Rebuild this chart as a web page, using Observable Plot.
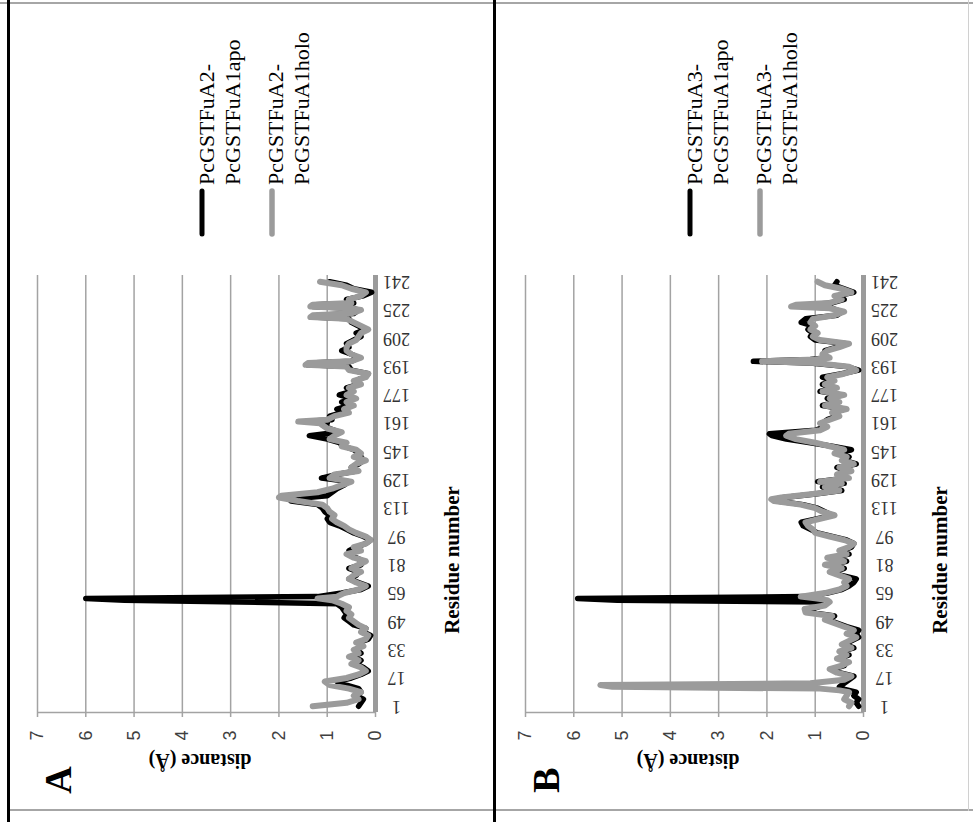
<!DOCTYPE html>
<html><head><meta charset="utf-8">
<script src="https://cdn.jsdelivr.net/npm/d3@7"></script>
<script src="https://cdn.jsdelivr.net/npm/@observablehq/plot@0.6"></script>
<style>
html,body{margin:0;padding:0;background:#fff;}
#wrap{position:relative;width:973px;height:822px;overflow:hidden;background:#fff;}
#wrap svg{position:absolute;top:0;}
.bar{position:absolute;}
</style></head><body><div id="wrap"></div>
<script>
// ---------- data ----------
const distTicks = [0, 1, 2, 3, 4, 5, 6, 7];
const resTicks = [1, 17, 33, 49, 65, 81, 97, 113, 129, 145, 161, 177, 193, 209, 225, 241];
const resDomain = [-2.5, 244.5];

const resA = [1,3,5,7,9,11,13,15,17,19,21,23,25,27,29,31,33,35,37,39,41,43,45,47,49,51,53,55,57,59,61,62,63,65,67,69,71,73,75,77,79,81,83,85,87,89,91,93,95,97,99,101,103,105,107,109,111,113,115,117,119,120,122,124,126,128,130,132,134,136,138,140,142,144,146,148,150,152,154,156,158,160,161,162,163,165,167,169,171,173,175,177,179,181,183,185,187,189,191,193,194,195,196,198,200,202,204,206,208,210,212,214,216,218,220,221,222,223,225,226,227,228,229,231,233,235,237,239,241];
const apoA = [0.35,0.30,0.25,0.40,0.30,0.35,0.60,0.80,0.50,0.30,0.15,0.25,0.40,0.30,0.50,0.30,0.40,0.30,0.35,0.15,0.10,0.25,0.20,0.45,0.55,0.65,0.60,0.65,0.70,0.80,5.20,6.00,1.20,0.70,0.30,0.15,0.35,0.55,0.40,0.35,0.55,0.30,0.25,0.40,0.55,0.55,0.40,0.20,0.10,0.25,0.45,0.60,0.75,0.95,1.00,0.95,1.05,1.10,1.20,1.75,1.40,1.00,0.90,0.80,0.65,0.55,1.12,0.80,0.40,0.50,0.35,0.25,0.30,0.35,0.45,0.65,0.75,1.00,1.37,0.75,0.95,1.10,1.00,1.45,0.90,0.95,0.70,0.80,0.55,0.70,0.50,0.75,0.50,0.60,0.35,0.40,0.25,0.15,0.50,0.55,1.40,1.35,0.50,0.35,0.50,0.70,0.55,0.60,0.45,0.30,0.40,0.20,0.35,0.50,0.55,1.30,1.20,0.45,0.35,0.50,1.30,1.25,0.45,0.60,0.25,0.08,0.45,0.60,0.95];
const holoA = [1.30,0.60,0.35,0.45,0.30,0.55,0.95,1.05,0.60,0.35,0.20,0.30,0.50,0.35,0.55,0.35,0.45,0.25,0.40,0.20,0.15,0.30,0.20,0.35,0.45,0.55,0.50,0.60,0.55,0.70,0.90,1.20,0.80,0.65,0.35,0.20,0.40,0.55,0.45,0.30,0.50,0.35,0.20,0.45,0.60,0.30,0.45,0.20,0.10,0.20,0.40,0.55,0.65,0.80,0.90,0.85,0.95,1.00,1.10,1.60,2.00,1.95,1.20,0.90,0.70,0.50,0.95,0.85,0.35,0.50,0.40,0.20,0.45,0.30,0.40,0.70,0.60,0.95,0.85,0.70,1.00,1.10,1.15,1.60,1.00,0.85,0.55,0.65,0.45,0.60,0.40,0.60,0.45,0.55,0.30,0.45,0.20,0.15,0.55,0.60,1.45,1.40,0.50,0.30,0.50,0.60,0.60,0.55,0.40,0.35,0.30,0.15,0.30,0.45,0.60,1.35,1.30,0.50,0.30,0.55,1.35,1.30,0.50,0.55,0.30,0.20,0.50,0.70,1.15];

const resB = [1,3,5,7,9,10,11,12,13,14,16,18,20,22,24,26,28,30,32,34,36,38,40,42,44,46,48,50,52,54,56,58,60,61,62,63,65,67,69,71,73,75,77,79,81,83,85,87,89,91,93,95,97,99,101,103,105,107,109,111,113,115,117,118,119,121,123,125,127,128,130,132,134,136,138,140,142,144,146,148,150,152,154,155,157,159,161,163,165,167,169,171,173,175,177,179,181,183,185,187,189,191,193,195,196,197,198,200,202,204,206,208,210,212,214,216,218,220,222,224,226,227,228,229,231,233,235,237,239,241];
const apoB = [0.10,0.15,0.10,0.20,0.15,0.30,0.45,0.50,0.45,0.40,0.30,0.20,0.50,0.65,0.40,0.35,0.50,0.30,0.45,0.20,0.40,0.25,0.10,0.15,0.10,0.35,0.55,0.75,0.60,1.10,1.05,0.85,0.90,5.10,5.92,1.20,0.75,0.45,0.30,0.20,0.15,0.45,0.60,0.40,0.70,0.35,0.65,0.30,0.45,0.25,0.20,0.35,0.65,0.95,1.10,1.25,1.29,0.95,0.65,0.80,0.95,1.25,1.80,1.85,1.65,1.00,0.45,0.85,0.40,0.95,0.35,0.50,0.30,0.55,0.15,0.40,0.30,0.55,0.25,0.65,1.10,1.60,1.90,1.95,1.00,0.80,0.85,0.75,0.55,0.60,0.40,0.85,0.55,0.75,0.45,0.90,0.60,0.85,0.65,0.85,0.45,0.10,0.35,1.10,2.28,1.10,0.75,0.80,0.80,0.55,0.35,1.00,1.10,1.05,1.15,1.05,1.29,1.20,0.55,0.45,0.65,1.20,1.15,0.65,0.40,0.55,0.20,0.40,0.60,0.55];
const holoB = [0.30,0.25,0.40,0.35,0.30,0.50,0.90,5.20,5.45,1.10,0.40,0.25,0.55,0.70,0.45,0.30,0.55,0.35,0.50,0.25,0.45,0.30,0.15,0.35,0.20,0.40,0.60,0.80,0.65,1.20,1.22,0.80,0.70,0.75,1.00,1.30,0.80,0.50,0.35,0.40,0.30,0.50,0.70,0.45,0.80,0.40,0.75,0.35,0.50,0.30,0.20,0.40,0.70,1.00,1.05,1.15,1.20,0.90,0.60,0.85,1.00,1.30,1.85,1.91,1.70,1.05,0.50,0.80,0.45,0.90,0.30,0.55,0.25,0.50,0.20,0.45,0.35,0.60,0.40,0.70,1.00,1.40,1.60,1.55,0.90,0.75,0.90,0.70,0.50,0.65,0.35,0.80,0.50,0.70,0.40,0.85,0.55,0.80,0.60,0.75,0.40,0.15,0.30,1.00,2.10,1.00,0.70,0.85,0.75,0.50,0.30,0.90,1.05,0.95,1.10,1.00,1.10,1.05,0.60,0.40,0.70,1.50,1.40,0.70,0.45,0.60,0.25,0.45,0.80,0.95];

const legendA = [["PcGSTFuA2-", "PcGSTFuA1apo"], ["PcGSTFuA2-", "PcGSTFuA1holo"]];
const legendB = [["PcGSTFuA3-", "PcGSTFuA1apo"], ["PcGSTFuA3-", "PcGSTFuA1holo"]];

// ---------- style ----------
const gridColor = "#a3a3a3";
const holoColor = "#9b9b9b";
const serif = "'Liberation Serif', 'DejaVu Serif', serif";
const sans = "'Liberation Sans', Arial, sans-serif";

function panel(res, apo, holo, letter, legend, left) {
  const apoRows = res.map((r, i) => ({res: r, dist: apo[i]}));
  const holoRows = res.map((r, i) => ({res: r, dist: holo[i]}));
  const chart = Plot.plot({
    width: 486, height: 822,
    marginLeft: 37, marginRight: 111, marginTop: 275, marginBottom: 110,
    style: {background: "transparent", overflow: "visible"},
    x: {domain: [0, 7], reverse: true},
    y: {domain: resDomain},
    marks: [
      Plot.gridX(distTicks.filter(d => d > 0), {stroke: gridColor, strokeOpacity: 1, strokeWidth: 1.5}),
      Plot.ruleY([resDomain[0]], {stroke: gridColor, strokeWidth: 1.5}),
      Plot.axisX(distTicks, {anchor: "bottom", tickSize: 5, stroke: gridColor, strokeWidth: 1.5,
        tickRotate: -90, tickPadding: 18, textAnchor: "middle", lineAnchor: "middle",
        fontSize: 18, fontFamily: sans, fill: "#404040", label: null}),
      Plot.axisY(resTicks, {anchor: "right", tickSize: 0, tickRotate: 180, tickPadding: 21,
        textAnchor: "middle", lineAnchor: "middle", fontSize: 18, fontFamily: serif,
        fill: "#333", label: null}),
      Plot.ruleX([0], {stroke: holoColor, strokeWidth: 5}),
      Plot.line(apoRows, {x: "dist", y: "res", stroke: "#000", strokeWidth: 5.5,
        strokeLinejoin: "round", strokeLinecap: "round"}),
      Plot.line(holoRows, {x: "dist", y: "res", stroke: holoColor, strokeWidth: 6,
        strokeLinejoin: "round", strokeLinecap: "round"})
    ]
  });
  chart.style.left = left + "px";
  const svg = d3.select(chart);
  const g = svg.append("g");
  // panel letter
  g.append("text").attr("transform", "translate(58,780) rotate(-90)")
    .attr("text-anchor", "middle").attr("dominant-baseline", "central")
    .style("font-family", serif).style("font-weight", "bold").style("font-size", "38px")
    .attr("fill", "#000").text(letter);
  // axis titles
  g.append("text").attr("transform", "translate(200,761) rotate(180)")
    .attr("text-anchor", "middle").attr("dominant-baseline", "central")
    .style("font-family", serif).style("font-weight", "bold").style("font-size", "20px")
    .attr("fill", "#000").text("distance (Å)");
  g.append("text").attr("transform", "translate(452,560) rotate(-90)")
    .attr("text-anchor", "middle").attr("dominant-baseline", "central")
    .style("font-family", serif).style("font-weight", "bold").style("font-size", "21px")
    .attr("fill", "#000").text("Residue number");
  // legend
  const entries = [{color: "#000", sx: 202, tx: 214, lines: legend[0], w: 5},
                   {color: holoColor, sx: 272, tx: 283, lines: legend[1], w: 5.5}];
  for (const e of entries) {
    g.append("line").attr("x1", e.sx).attr("x2", e.sx).attr("y1", 191).attr("y2", 234)
      .attr("stroke", e.color).attr("stroke-width", e.w).attr("stroke-linecap", "round");
    const t = g.append("text").attr("transform", `translate(${e.tx},185) rotate(-90)`)
      .attr("text-anchor", "start").style("font-family", serif).style("font-size", "22px")
      .attr("fill", "#000");
    e.lines.forEach((s, i) => t.append("tspan").attr("x", 0).attr("y", i * 26).text(s));
  }
  document.getElementById("wrap").appendChild(chart);
}

panel(resA, apoA, holoA, "A", legendA, 0);
panel(resB, apoB, holoB, "B", legendB, 488);

// frame lines
const wrap = document.getElementById("wrap");
function bar(l, t, w, h, c) {
  const d = document.createElement("div");
  d.className = "bar";
  Object.assign(d.style, {left: l + "px", top: t + "px", width: w + "px", height: h + "px", background: c});
  wrap.appendChild(d);
}
bar(0, 2, 973, 2, "#a6a6a6");
bar(9, 809, 964, 2, "#a6a6a6");
bar(7, 0, 3, 822, "#000");
bar(493, 0, 3, 822, "#000");
bar(968, 0, 1, 811, "#d0d0d0");
</script></body></html>
